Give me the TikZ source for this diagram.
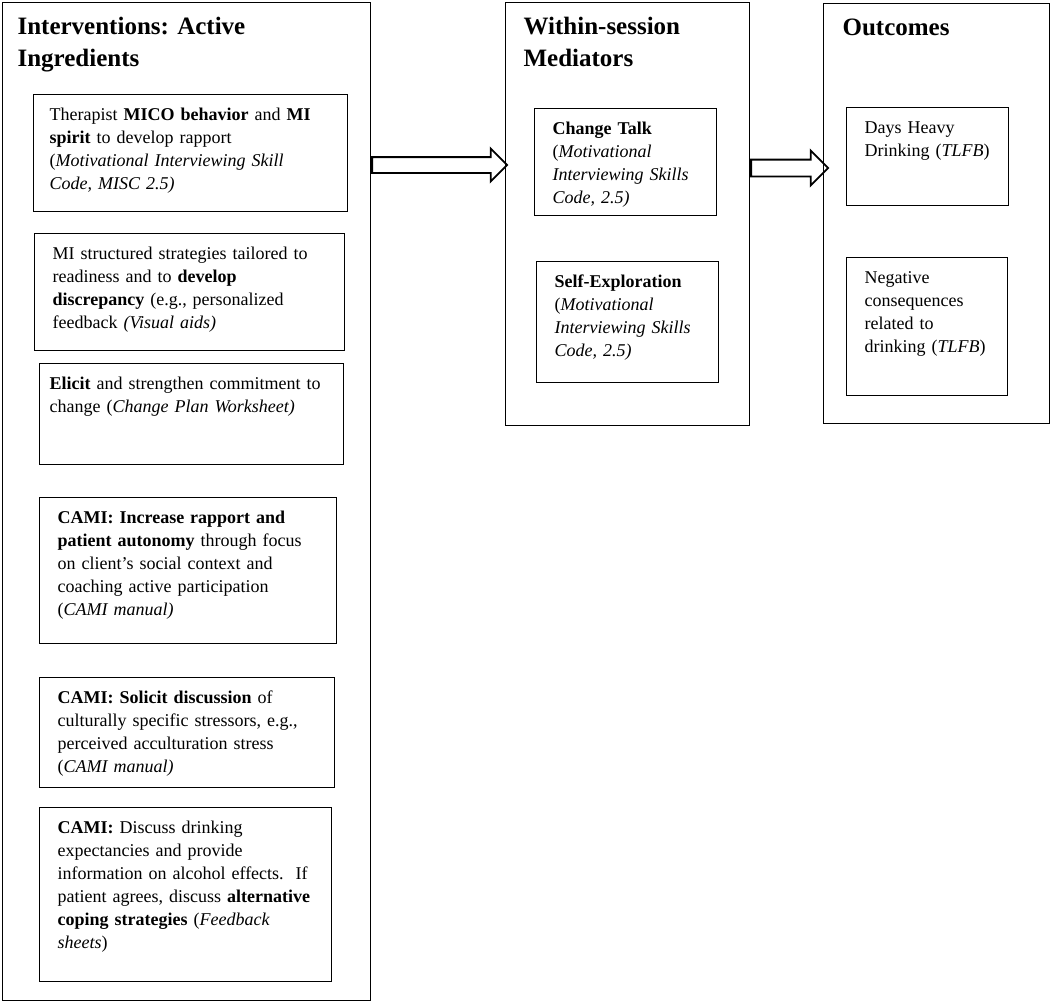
\documentclass[tikz,border=0pt]{standalone}
\usepackage{fontspec}
\setmainfont{Liberation Serif}
\usetikzlibrary{shapes.arrows}
\frenchspacing
\hyphenpenalty=10000
\begin{document}
\begin{tikzpicture}[
	x=0.5pt, y=-0.5pt,
	txt/.style = {font=\fontsize{9}{11.5}\selectfont},
	box/.style = {draw, line width=.6pt, anchor=north west, align=left,
		inner xsep=9pt, inner ysep=5pt, text height=8pt, txt},
	frame/.style = {draw, line width=.6pt, anchor=north west, align=left,
		inner xsep=9pt, inner ysep=5pt, text height=11pt,
		font=\fontsize{12.5}{16}\selectfont\bfseries},
	fat/.style = {single arrow, draw, line width=.9pt, minimum width=0pt,
		single arrow tip angle=90, anchor=tail}
	]
	\useasboundingbox (0,0) rectangle (1050,1002);
%
	\node[frame, inner xsep=7.5pt, text width=169pt, text depth=478pt] (iv) at (2,2)
		{Interventions: Active\\ Ingredients};
	\node[frame, text width=104pt, text depth=190.5pt] (ws) at (505,2)
		{Within-session\\ Mediators};
	\node[frame, inner xsep=9.5pt, text width=94pt, text depth=189pt] (oc) at (823,3)
		{Outcomes};
%
	\node[box, inner xsep=8pt, text width=141pt, text depth=40.5pt] (mico) at (33,94)
		{Therapist \textbf{MICO behavior} and \textbf{MI}\\
		 \textbf{spirit} to develop rapport\\
		 (\textit{Motivational Interviewing Skill}\\
		 \textit{Code, MISC 2.5)}};
	\node[box, text width=137pt, text depth=40.5pt] (disc) at (34,233)
		{MI structured strategies tailored to\\
		 readiness and to \textbf{develop}\\
		 \textbf{discrepancy} (e.g., personalized\\
		 feedback \textit{(Visual aids)}};
	\node[box, inner xsep=5pt, text width=142pt, text depth=32.5pt] (elic) at (39,363)
		{\textbf{Elicit} and strengthen commitment to\\
		 change (\textit{Change Plan Worksheet)}};
	\node[box, text width=130.5pt, text depth=55pt] (rapp) at (39,497)
		{\textbf{CAMI: Increase rapport and}\\
		 \textbf{patient autonomy} through focus\\
		 on client’s social context and\\
		 coaching active participation\\
		 (\textit{CAMI manual)}};
	\node[box, text width=129.5pt, text depth=37pt] (soli) at (39,677)
		{\textbf{CAMI: Solicit discussion} of\\
		 culturally specific stressors, e.g.,\\
		 perceived acculturation stress\\
		 (\textit{CAMI manual)}};
	\node[box, text width=128pt, text depth=69pt] (cope) at (39,807)
		{\textbf{CAMI:} Discuss drinking\\
		 expectancies and provide\\
		 information on alcohol effects.\ \ If\\
		 patient agrees, discuss \textbf{alternative}\\
		 \textbf{coping strategies} (\textit{Feedback}\\
		 \textit{sheets})};
%
	\node[box, text width=73pt, text depth=35.5pt] (talk) at (534,108)
		{\textbf{Change Talk}\\
		 (\textit{Motivational}\\
		 \textit{Interviewing Skills}\\
		 \textit{Code, 2.5)}};
	\node[box, text width=73pt, text depth=42.5pt] (expl) at (536,261)
		{\textbf{Self-Exploration}\\
		 (\textit{Motivational}\\
		 \textit{Interviewing Skills}\\
		 \textit{Code, 2.5)}};
%
	\node[box, text width=63pt, text depth=31pt] (days) at (846,107)
		{Days Heavy\\
		 Drinking (\textit{TLFB})};
	\node[box, text width=62.5pt, text depth=51pt] (cons) at (846,257)
		{Negative\\
		 consequences\\
		 related to\\
		 drinking (\textit{TLFB})};
%
	\coordinate (a1) at ([yshift=-81.5pt]iv.north east);
	\path (a1) -- node[fat, pos=0, inner sep=3.5pt, single arrow head extend=4.25pt,
		minimum height=67.5pt] (ar1) {} (a1 -| ws.west);
%
	\coordinate (a2) at ([yshift=-83pt]ws.north east);
	\path (a2) -- node[fat, pos=0, inner sep=3.75pt, single arrow head extend=4.5pt,
		minimum height=38.5pt] (ar2) {} (a2 -| oc.west);
\end{tikzpicture}
\end{document}
